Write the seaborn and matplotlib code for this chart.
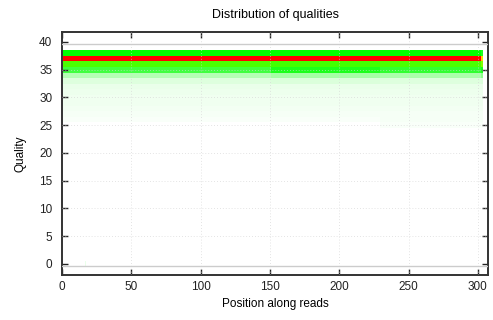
import numpy as np
import pandas as pd
import seaborn as sns
import matplotlib
matplotlib.use("Agg")
import matplotlib.pyplot as plt
from matplotlib.colors import LinearSegmentedColormap

# ---- data (relative density per quality level, per position segment) ----
qualities = list(range(25, 39))              # 25 .. 38
n_positions = 303
seg_first = [1, 151, 230, 303]
seg_last = [150, 229, 302, 303]
density_seg1 = [0.0, 0.008, 0.015, 0.018, 0.02, 0.022, 0.025, 0.03, 0.045, 0.10, 0.25, 0.43, 1.0, 0.335]
density_seg2 = [0.0, 0.010, 0.015, 0.018, 0.02, 0.022, 0.025, 0.03, 0.050, 0.12, 0.30, 0.42, 1.0, 0.335]
density_seg3 = [0.008, 0.012, 0.015, 0.018, 0.02, 0.022, 0.025, 0.03, 0.045, 0.11, 0.27, 0.43, 1.0, 0.335]
density_last = [0.008, 0.012, 0.015, 0.018, 0.02, 0.022, 0.025, 0.03, 0.05, 0.15, 0.30, 0.50, 0.72, 0.30]
outlier_pos = [17]
outlier_q = [0]
outlier_density = [0.03]

x_ticks = [0, 50, 100, 150, 200, 250, 300]
y_ticks = [0, 5, 10, 15, 20, 25, 30, 35, 40]

# ---- build matrix ----
all_q = np.arange(0, 42)
positions = np.arange(1, n_positions + 1)
mat = np.zeros((len(all_q), len(positions)))
for dens, a, b in zip([density_seg1, density_seg2, density_seg3, density_last], seg_first, seg_last):
    for q, d in zip(qualities, dens):
        mat[q, a - 1:b] = d
for p, q, d in zip(outlier_pos, outlier_q, outlier_density):
    mat[q, p - 1] = d
df = pd.DataFrame(mat, index=all_q, columns=positions)

cmap = LinearSegmentedColormap.from_list(
    "qual", [(0, "#ffffff"), (1 / 3, "#00ff00"), (2 / 3, "#ffff00"), (1, "#ff0000")])

plt.rcParams["font.family"] = ["Liberation Sans", "DejaVu Sans"]
fig = plt.figure(figsize=(4.93, 3.2), dpi=100)
ax = fig.add_axes([62 / 493, 1 - 275 / 320, (488 - 62) / 493, (275 - 32) / 320])

sns.heatmap(df, ax=ax, cmap=cmap, vmin=0, vmax=1, cbar=False, mask=(df <= 0),
            xticklabels=False, yticklabels=False)

# column j <-> position j+1 centered at j+0.5 ; row i <-> quality i centered at i+0.5
ax.set_xlim(0 - 0.5, 307.3 - 0.5)
ax.set_ylim(-2 + 0.5, 41.8 + 0.5)
ax.set_xticks([t - 0.5 for t in x_ticks])
ax.set_xticklabels([str(t) for t in x_ticks])
ax.set_yticks([t + 0.5 for t in y_ticks])
ax.set_yticklabels([str(t) for t in y_ticks], rotation=0)

# grid on top
for t in x_ticks[1:]:
    ax.axvline(t - 0.5, color="#d4d4d4", lw=0.5, ls=(0, (1.2, 3)), zorder=5)
for t in y_ticks[1:-1]:
    ax.axhline(t + 0.5, color="#d4d4d4", lw=0.5, ls=(0, (1.2, 3)), zorder=5)
ax.axhline(39.6 + 0.5, color="#cccccc", lw=1.0, zorder=5)
ax.axhline(-0.4 + 0.5, color="#cccccc", lw=1.0, zorder=5)

for s in ax.spines.values():
    s.set_visible(True)
    s.set_color("#333333")
    s.set_linewidth(1.4)
ax.tick_params(direction="in", length=4, width=1, top=True, right=True,
               labelsize=8.5, colors="#222222")
ax.tick_params(axis="y", pad=7)
ax.tick_params(axis="x", pad=4)

ax.set_xlabel("Position along reads", fontsize=8.5, labelpad=4)
ax.set_ylabel("Quality", fontsize=8.5, labelpad=9)
ax.set_title("Distribution of qualities", fontsize=9, pad=10)

fig.savefig("out.png", dpi=100)
